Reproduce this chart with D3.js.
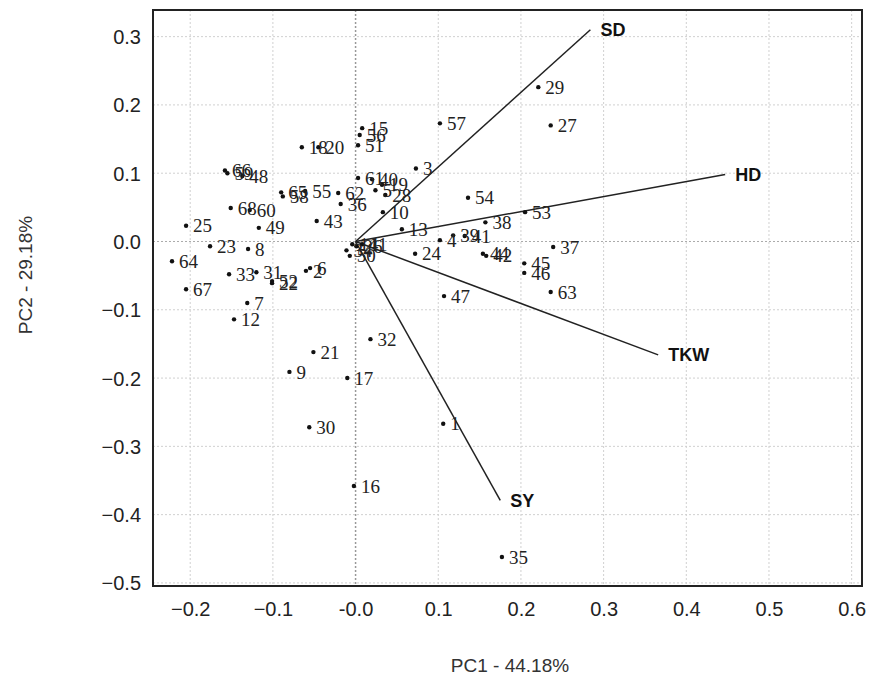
<!DOCTYPE html>
<html>
<head>
<meta charset="utf-8">
<script src="https://cdn.jsdelivr.net/npm/d3@7"></script>
<style>
  body { margin: 0; background: #fff; }
</style>
</head>
<body>
<div id="chart"></div>
<script>
// Genotype scores (PC1, PC2)
const ids = [1, 2, 3, 4, 5, 6, 7, 8, 9, 10, 11, 12, 13, 14, 15, 16, 17, 18, 19, 20,
  21, 22, 23, 24, 25, 26, 27, 28, 29, 30, 31, 32, 33, 34, 35, 36, 37, 38, 39, 40,
  41, 42, 43, 44, 45, 46, 47, 48, 49, 50, 51, 52, 53, 54, 55, 56, 57, 58, 59, 60,
  61, 62, 63, 64, 65, 66, 67, 68];
const pc1 = [0.106, -0.060, 0.073, 0.102, 0.024, -0.055, -0.131, -0.130, -0.080, 0.033,
  0.008, -0.147, 0.056, -0.004, 0.008, -0.002, -0.010, -0.065, 0.032, -0.045,
  -0.051, -0.101, -0.176, 0.072, -0.205, 0.001, 0.236, 0.036, 0.221, -0.056,
  -0.120, 0.018, -0.153, -0.011, 0.177, -0.018, 0.239, 0.157, 0.118, 0.020,
  0.132, 0.158, -0.047, 0.154, 0.204, 0.204, 0.107, -0.137, -0.117, -0.007,
  0.003, -0.101, 0.205, 0.136, -0.061, 0.005, 0.102, -0.088, -0.155, -0.128,
  0.003, -0.021, 0.236, -0.222, -0.090, -0.158, -0.205, -0.151];
const pc2 = [-0.267, -0.043, 0.107, 0.002, 0.075, -0.039, -0.090, -0.011, -0.191, 0.043,
  -0.004, -0.114, 0.018, -0.004, 0.166, -0.358, -0.200, 0.138, 0.083, 0.138,
  -0.162, -0.061, -0.007, -0.018, 0.023, -0.007, 0.170, 0.068, 0.226, -0.272,
  -0.045, -0.143, -0.048, -0.013, -0.462, 0.055, -0.008, 0.028, 0.009, 0.091,
  0.008, -0.021, 0.030, -0.018, -0.032, -0.046, -0.080, 0.096, 0.020, -0.021,
  0.141, -0.058, 0.043, 0.064, 0.074, 0.156, 0.173, 0.066, 0.100, 0.046,
  0.093, 0.071, -0.074, -0.029, 0.072, 0.104, -0.070, 0.049];

// Trait loadings
const traits = ["SD", "HD", "TKW", "SY"];
const traitX = [0.284, 0.447, 0.366, 0.175];
const traitY = [0.310, 0.098, -0.166, -0.379];

// Tick values
const xTicks = [-0.2, -0.1, 0.0, 0.1, 0.2, 0.3, 0.4, 0.5, 0.6];
const yTicks = [0.3, 0.2, 0.1, 0.0, -0.1, -0.2, -0.3, -0.4, -0.5];

const width = 874;
const height = 683;
const margin = { top: 10, right: 12, bottom: 97, left: 153 };
const innerW = width - margin.left - margin.right;
const innerH = height - margin.top - margin.bottom;

const svg = d3.select("#chart")
  .append("svg")
  .attr("width", width)
  .attr("height", height);

const g = svg.append("g")
  .attr("transform", `translate(${margin.left}, ${margin.top})`);

const xScale = d3.scaleLinear()
  .domain([-0.245, 0.6125])
  .range([0, innerW]);

const yScale = d3.scaleLinear()
  .domain([-0.5045, 0.339])
  .range([innerH, 0]);

const fmt = v => (Math.abs(v) < 1e-9 ? "-0.0" : d3.format(".1f")(v));

// Grid lines
g.append("g")
  .selectAll("line")
  .data(xTicks)
  .enter()
  .append("line")
  .attr("x1", d => xScale(d))
  .attr("x2", d => xScale(d))
  .attr("y1", 0)
  .attr("y2", innerH)
  .attr("stroke", d => d === 0 ? "#999" : "#d0d0d0")
  .attr("stroke-width", d => d === 0 ? 1.5 : 1)
  .attr("stroke-dasharray", "2,2");

g.append("g")
  .selectAll("line")
  .data(yTicks)
  .enter()
  .append("line")
  .attr("x1", 0)
  .attr("x2", innerW)
  .attr("y1", d => yScale(d))
  .attr("y2", d => yScale(d))
  .attr("stroke", d => d === 0 ? "#aaa" : "#d0d0d0")
  .attr("stroke-width", 1)
  .attr("stroke-dasharray", "2,2");

// Axes (labels only)
const xAxis = g.append("g")
  .attr("transform", `translate(0, ${innerH})`)
  .call(d3.axisBottom(xScale).tickValues(xTicks).tickFormat(fmt).tickSize(0).tickPadding(16));

const yAxis = g.append("g")
  .call(d3.axisLeft(yScale).tickValues(yTicks).tickFormat(d => d3.format(".1f")(d)).tickSize(0).tickPadding(12));

[xAxis, yAxis].forEach(a => {
  a.select(".domain").remove();
  a.selectAll("text")
    .attr("font-family", "Liberation Sans, Arial, sans-serif")
    .attr("font-size", 20)
    .attr("fill", "#222");
});
yAxis.selectAll("text").attr("dy", "0.35em");

// Frame
g.append("rect")
  .attr("x", 0)
  .attr("y", 0)
  .attr("width", innerW)
  .attr("height", innerH)
  .attr("fill", "none")
  .attr("stroke", "#222")
  .attr("stroke-width", 2);

// Trait vectors
const vec = traits.map((t, i) => ({ name: t, x: traitX[i], y: traitY[i] }));

g.selectAll(".vec")
  .data(vec)
  .enter()
  .append("line")
  .attr("class", "vec")
  .attr("x1", xScale(0))
  .attr("y1", yScale(0))
  .attr("x2", d => xScale(d.x))
  .attr("y2", d => yScale(d.y))
  .attr("stroke", "#222")
  .attr("stroke-width", 1.5);

g.selectAll(".vlab")
  .data(vec)
  .enter()
  .append("text")
  .attr("class", "vlab")
  .text(d => d.name)
  .attr("x", d => xScale(d.x) + 10)
  .attr("y", d => yScale(d.y))
  .attr("dy", "0.35em")
  .attr("font-family", "Liberation Sans, Arial, sans-serif")
  .attr("font-weight", "bold")
  .attr("font-size", 18)
  .attr("fill", "#111");

// Genotype points
const pts = ids.map((id, i) => ({ id: id, x: pc1[i], y: pc2[i] }));

g.selectAll(".pt")
  .data(pts)
  .enter()
  .append("circle")
  .attr("class", "pt")
  .attr("cx", d => xScale(d.x))
  .attr("cy", d => yScale(d.y))
  .attr("r", 2.2)
  .attr("fill", "#111");

g.selectAll(".plab")
  .data(pts)
  .enter()
  .append("text")
  .attr("class", "plab")
  .text(d => d.id)
  .attr("x", d => xScale(d.x) + 7)
  .attr("y", d => yScale(d.y))
  .attr("dy", "0.35em")
  .attr("font-family", "Liberation Serif, Times New Roman, serif")
  .attr("font-size", 19)
  .attr("fill", "#222");

// Axis titles
svg.append("text")
  .text("PC1 - 44.18%")
  .attr("x", 510)
  .attr("y", 672)
  .attr("text-anchor", "middle")
  .attr("font-family", "Liberation Sans, Arial, sans-serif")
  .attr("font-size", 19)
  .attr("fill", "#333");

svg.append("text")
  .text("PC2 - 29.18%")
  .attr("transform", "translate(32, 275) rotate(-90)")
  .attr("text-anchor", "middle")
  .attr("font-family", "Liberation Sans, Arial, sans-serif")
  .attr("font-size", 19)
  .attr("fill", "#333");
</script>
</body>
</html>
